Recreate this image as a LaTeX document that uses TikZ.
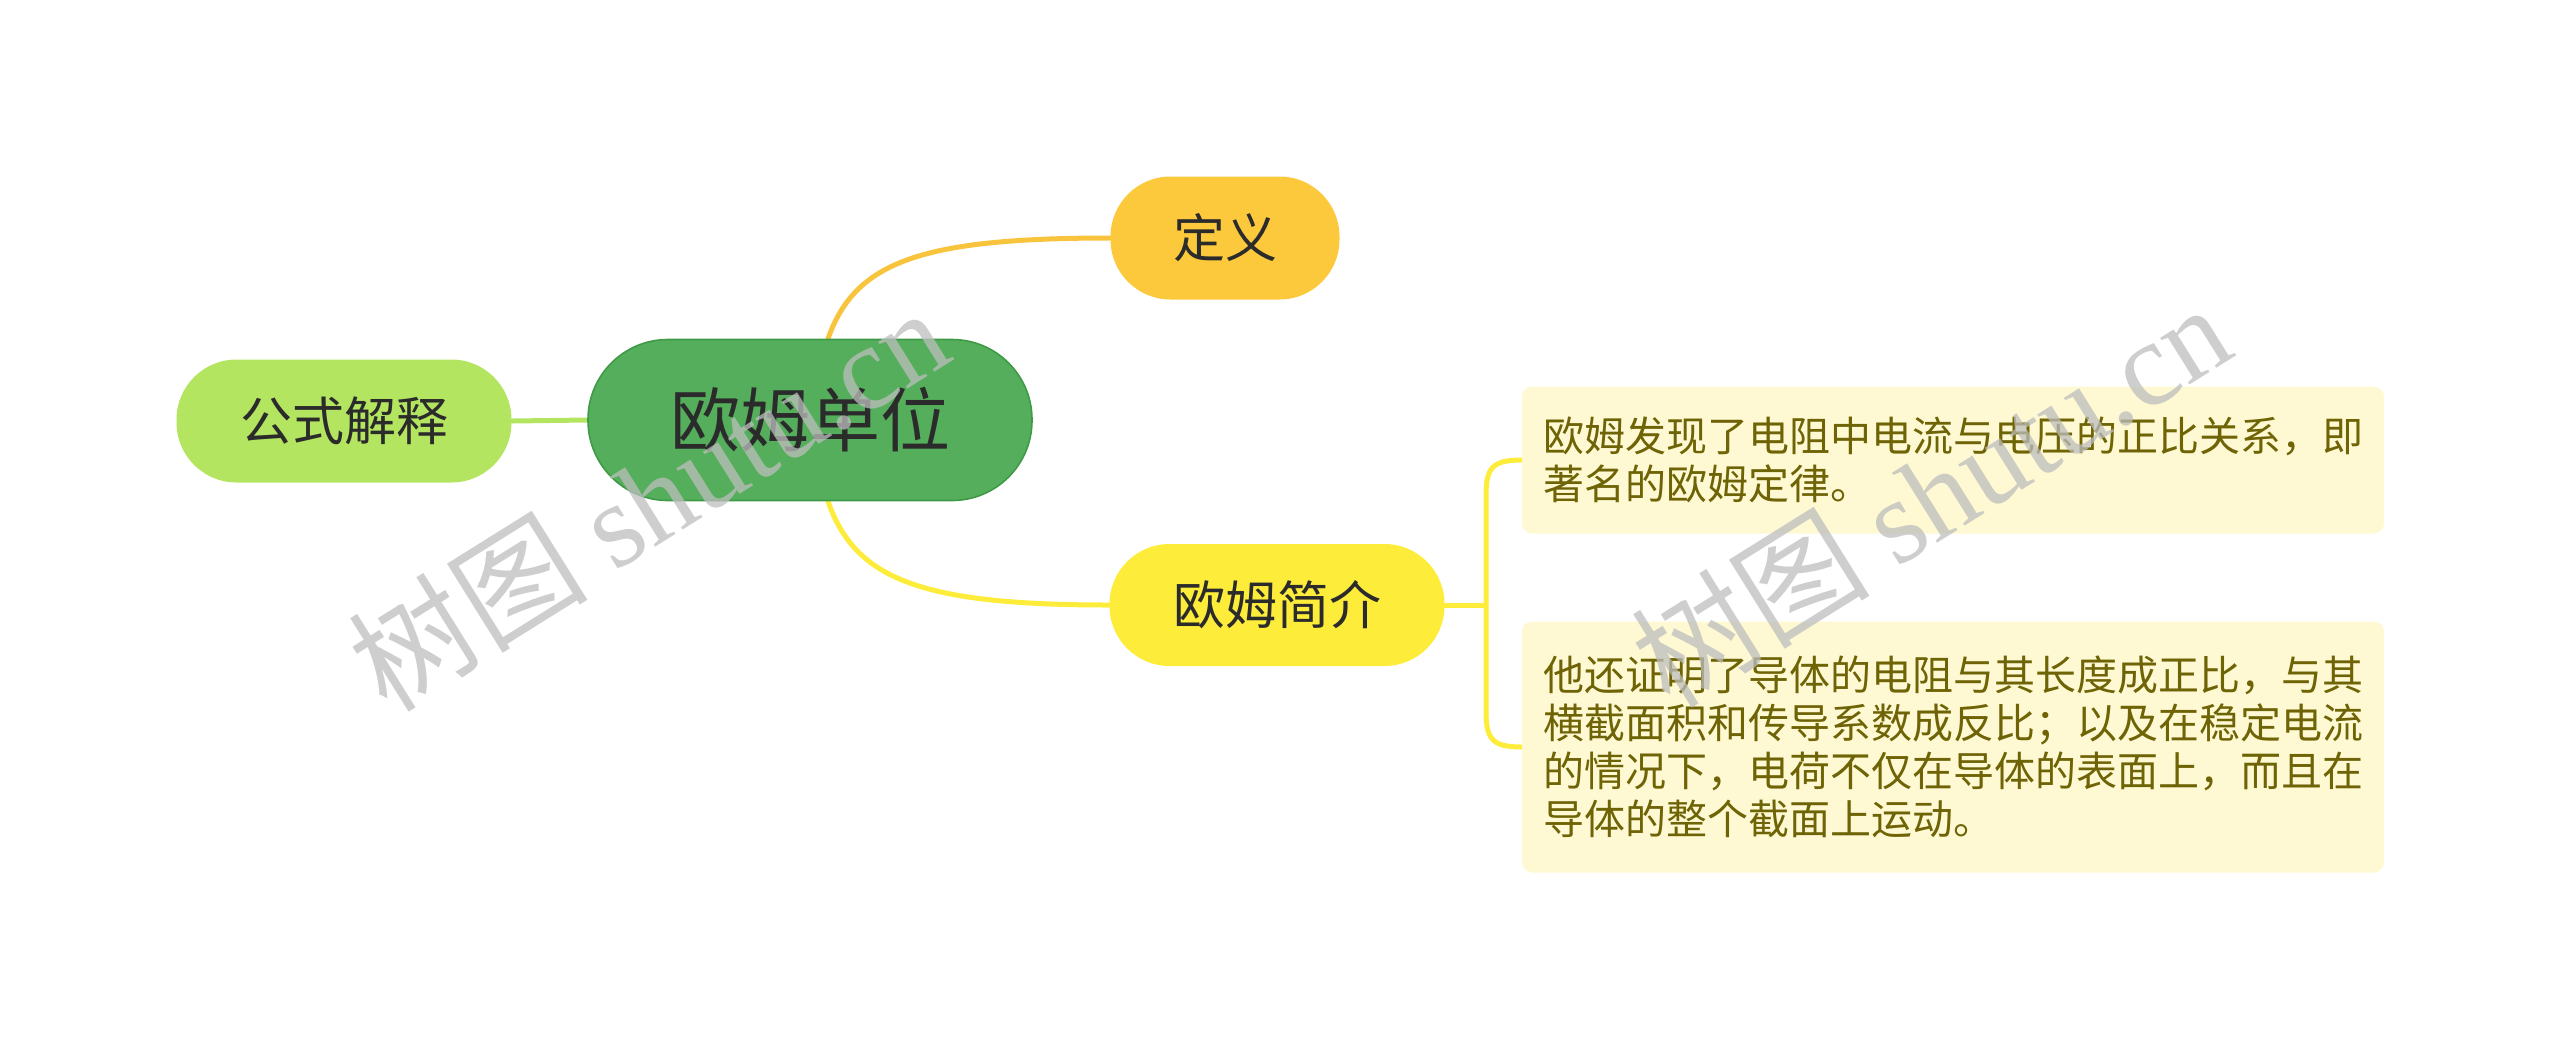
\documentclass[tikz,border=0pt]{standalone}
\usepackage{fontspec}
\setmainfont{Noto Sans CJK SC}
\newfontfamily\wmlatin{Liberation Serif}
\usetikzlibrary{backgrounds}
\definecolor{rootfill}{HTML}{55AE5B}
\definecolor{rootline}{HTML}{3F9A48}
\definecolor{deffill}{HTML}{FDC93C}
\definecolor{deflink}{HTML}{F8C43E}
\definecolor{formfill}{HTML}{B3E560}
\definecolor{introfill}{HTML}{FDEC3A}
\definecolor{boxfill}{HTML}{FEF9D3}
\definecolor{boxtext}{HTML}{6E6305}
\definecolor{nodetext}{HTML}{2B2B2B}
\definecolor{wm}{HTML}{BDBDBD}
\tikzset{
  x=0.5pt, y=-0.5pt,
  pill/.style={rounded corners=#1, inner sep=0pt, text=nodetext},
  subnode/.style={pill=30pt, minimum width=167.5pt, minimum height=61.5pt,
    font=\fontsize{26pt}{31pt}\selectfont},
  detail/.style={rounded corners=5pt, fill=boxfill, text=boxtext, inner sep=10.5pt,
    text width=410pt, align=left, font=\fontsize{20.5pt}{24pt}\selectfont},
  link/.style={line width=2.5pt, line cap=round},
  watermark/.style={text=wm, opacity=0.75, rotate=32,
    font=\fontsize{60pt}{64pt}\selectfont}
}
\begin{document}
\begin{tikzpicture}
\useasboundingbox (0,0) rectangle (2560,1051);
% nodes
\node[pill=40pt, fill=rootfill, draw=rootline, line width=0.8pt,
      minimum width=222pt, minimum height=80.5pt,
      font=\fontsize{35pt}{42pt}\selectfont] (root) at (810,420) {欧姆单位};
\node[subnode, fill=deffill, minimum width=114.5pt] (def) at (1225,238) {定义};
\node[subnode, fill=formfill] (form) at (344,421) {公式解释};
\node[subnode, fill=introfill, minimum height=61pt] (intro) at (1277,605) {欧姆简介};
\node[detail, minimum height=73.5pt] (box1) at (1953,460)
  {欧姆发现了电阻中电流与电压的正比关系，即\\著名的欧姆定律。};
\node[detail, minimum height=125.5pt] (box2) at (1953,747)
  {他还证明了导体的电阻与其长度成正比，与其\\横截面积和传导系数成反比；以及在稳定电流\\的情况下，电荷不仅在导体的表面上，而且在\\导体的整个截面上运动。};
\coordinate (brk) at (1486,605);
% connectors
\begin{scope}[on background layer]
\draw[link, draw=formfill] (form.east) -- (root.west);
\draw[link, draw=deflink] ([xshift=9pt]root.north) .. controls (855,262) and (920,238) .. (def.west);
\draw[link, draw=introfill] ([xshift=9pt]root.south) .. controls (855,579) and (920,605) .. (intro.west);
\draw[link, draw=introfill] (intro.east) -- (brk);
\draw[link, draw=introfill] (box1.west) .. controls (1492,460) and (1486,468) .. (1486,496)
   -- (1486,711) .. controls (1486,739) and (1492,747) .. (box2.west);
\end{scope}
% watermarks
\node[watermark] (wm1) at (648,498) {树图 {\wmlatin shutu.cn}};
\node[watermark] (wm2) at (1930,494) {树图 {\wmlatin shutu.cn}};
\end{tikzpicture}
\end{document}
